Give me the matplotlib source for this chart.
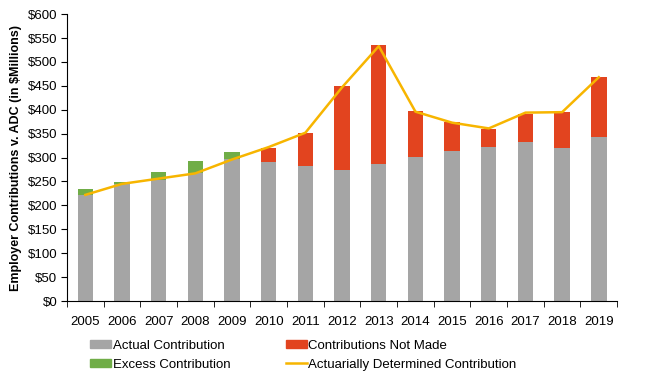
import matplotlib.pyplot as plt
import matplotlib.ticker as mticker
import numpy as np
from matplotlib.patches import Patch
from matplotlib.lines import Line2D

plt.rcParams["font.family"] = ["Liberation Sans", "DejaVu Sans"]

years = [str(y) for y in range(2005, 2020)]
actual = [222, 245, 253, 267, 296, 291, 283, 275, 286, 302, 314, 323, 332, 320, 342]
excess = [13, 4, 17, 26, 16, 0, 0, 0, 0, 0, 0, 0, 0, 0, 0]
not_made = [0, 0, 0, 0, 0, 29, 69, 175, 249, 95, 60, 37, 60, 75, 126]
adc = [222, 245, 256, 267, 296, 322, 352, 447, 533, 396, 373, 361, 394, 395, 468]

GRAY, RED, GREEN, GOLD = "#A5A5A5", "#E2441F", "#70AD47", "#F7B500"

fig = plt.figure(figsize=(6.48, 3.82), dpi=100)
ax = fig.add_axes([0.1034, 0.212, 0.849, 0.751])

x = np.arange(len(years))
w = 0.42
ax.bar(x, actual, w, color=GRAY, zorder=2)
ax.bar(x, excess, w, bottom=actual, color=GREEN, zorder=2)
ax.bar(x, not_made, w, bottom=actual, color=RED, zorder=2)
ax.plot(x, adc, color=GOLD, lw=1.8, zorder=3)

ax.set_xlim(-0.5, len(years) - 0.5)
ax.set_ylim(0, 600)
ax.yaxis.set_major_locator(mticker.MultipleLocator(50))
ax.yaxis.set_major_formatter(mticker.FuncFormatter(lambda v, _: f"${v:.0f}"))
ax.set_xticks(x)
ax.set_xticklabels(years)
ax.set_xticks(np.arange(-0.5, len(years), 1.0), minor=True)
ax.tick_params(axis="x", which="major", length=0, labelsize=9.5, pad=11)
ax.tick_params(axis="x", which="minor", length=4, direction="out")
ax.tick_params(axis="y", length=4, labelsize=9.5, pad=3)
for sp in ("top", "right"):
    ax.spines[sp].set_visible(False)
ax.set_ylabel("Employer Contributions v. ADC (in $Millions)", fontsize=9,
              fontweight="bold", labelpad=4)

handles = [Patch(color=GRAY), Patch(color=GREEN), Patch(color=RED),
           Line2D([], [], color=GOLD, lw=1.8)]
labels = ["Actual Contribution", "Excess Contribution",
          "Contributions Not Made", "Actuarially Determined Contribution"]
fig.legend(handles, labels, ncol=2, loc="upper left", bbox_to_anchor=(0.139, 0.111),
           frameon=False, fontsize=9.5, handlelength=1.6, handleheight=0.6,
           handletextpad=0.1, columnspacing=4.2, labelspacing=0.55,
           borderaxespad=0, borderpad=0)

fig.savefig("out.png", dpi=100)
